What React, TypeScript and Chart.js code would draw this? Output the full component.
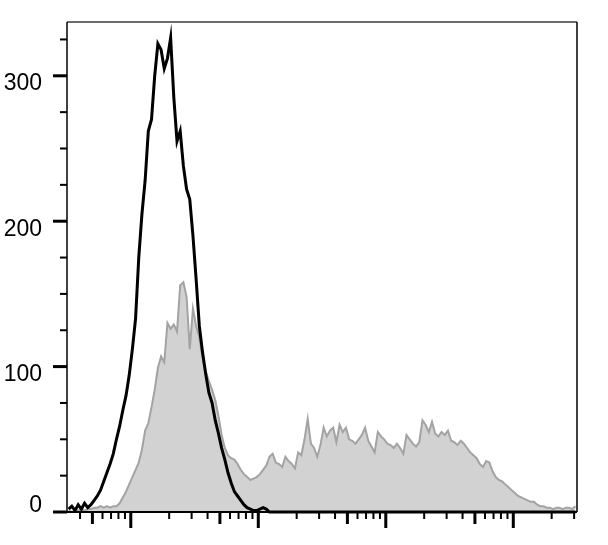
import React, { useEffect, useRef } from 'react';
import { Chart, registerables } from 'chart.js';

Chart.register(...registerables);

// ---- histogram binning (log-spaced channels) ----
const BIN_LOG_START = 1.5;
const BIN_LOG_STEP = 0.025;

// ---- axis ranges ----
const X_MIN = 31.6;
const X_MAX = 316000;
const Y_MIN = 0;
const Y_MAX = 337;

// ---- tick values / labels ----
const Y_MAJOR = [0, 100, 200, 300];
const Y_MINOR = [25, 50, 75, 125, 150, 175, 225, 250, 275, 325];
const Y_ZERO_LABEL_AT = 10; // "0" label sits slightly above the baseline
const X_MAJOR = [100, 1000, 10000, 100000];
const X_MAJOR_LABELS = ['10²', '10³', '10⁴', '10⁵'];
const X_MID = [50, 500, 5000, 50000];
const X_MINOR = [
  40, 60, 70, 80, 90,
  200, 300, 400, 600, 700, 800, 900,
  2000, 3000, 4000, 6000, 7000, 8000, 9000,
  20000, 30000, 40000, 60000, 70000, 80000, 90000,
  200000, 300000,
];

// ---- series: counts per bin ----
const GRAY_COUNTS = [
  1, 0, 1, 1, 2, 1, 2, 2, 3, 3,
  4, 3, 4, 3, 4, 4, 6, 10, 14, 19,
  24, 29, 34, 43, 56, 61, 72, 84, 99, 107,
  103, 130, 126, 129, 124, 156, 158, 148, 112, 140,
  128, 120, 106, 97, 90, 84, 77, 66, 53, 44,
  39, 37, 36, 33, 29, 26, 24, 22, 23, 24,
  26, 29, 32, 38, 40, 34, 33, 31, 38, 35,
  33, 30, 41, 39, 50, 64, 47, 44, 38, 46,
  58, 52, 56, 58, 48, 60, 55, 58, 50, 49,
  47, 50, 53, 58, 49, 45, 41, 55, 52, 50,
  47, 46, 44, 47, 44, 40, 53, 50, 47, 45,
  48, 63, 60, 55, 62, 54, 52, 55, 53, 56,
  49, 48, 46, 49, 47, 44, 41, 39, 37, 33,
  31, 35, 34, 28, 24, 22, 21, 19, 17, 15,
  13, 11, 10, 9, 8, 7, 7, 5, 4, 4,
  3, 3, 2, 3, 3, 2, 3, 3, 2, 4,
];

const BLACK_COUNTS = [
  2, 4, 1, 5, 2, 6, 3, 5, 8, 11,
  15, 21, 27, 33, 40, 50, 59, 70, 80, 94,
  112, 133, 175, 205, 228, 262, 270, 300, 322, 318,
  305, 312, 326, 285, 255, 262, 238, 222, 215, 190,
  160, 128, 110, 95, 82, 75, 63, 54, 44, 36,
  27, 20, 14, 11, 8, 5, 3, 2, 1, 1,
  2, 3, 2, 0, 0, 0, 0, 0, 0, 0,
  0, 0, 0, 0, 0, 0, 0, 0, 0, 0,
  0, 0, 0, 0, 0, 0, 0, 0, 0, 0,
  0, 0, 0, 0, 0, 0, 0, 0, 0, 0,
  0, 0, 0, 0, 0, 0, 0, 0, 0, 0,
  0, 0, 0, 0, 0, 0, 0, 0, 0, 0,
  0, 0, 0, 0, 0, 0, 0, 0, 0, 0,
  0, 0, 0, 0, 0, 0, 0, 0, 0, 0,
  0, 0, 0, 0, 0, 0, 0, 0, 0, 0,
  0, 0, 0, 0, 0, 0, 0, 0, 0, 0,
];

const CANVAS_W = 608;
const CANVAS_H = 580;
const FONT = '"Liberation Sans", Arial, Helvetica, sans-serif';

const toPoints = (counts: number[]) =>
  counts.map((c, i) => ({ x: Math.pow(10, BIN_LOG_START + (i + 0.5) * BIN_LOG_STEP), y: c }));

const axisDecor = {
  id: 'axisDecor',
  afterDraw(chart: any) {
    const { ctx, chartArea } = chart;
    const { left, right, top, bottom } = chartArea;
    const xs = chart.scales.x;
    const ys = chart.scales.y;
    ctx.save();
    // frame
    ctx.lineWidth = 1.5;
    ctx.strokeStyle = '#3a3a3a';
    ctx.beginPath();
    ctx.moveTo(left, top);
    ctx.lineTo(right, top);
    ctx.stroke();
    ctx.strokeStyle = '#000';
    ctx.beginPath();
    ctx.moveTo(right, top);
    ctx.lineTo(right, bottom);
    ctx.stroke();
    ctx.beginPath();
    ctx.moveTo(left, top);
    ctx.lineTo(left, bottom);
    ctx.stroke();
    ctx.lineWidth = 2;
    ctx.beginPath();
    ctx.moveTo(left, bottom);
    ctx.lineTo(right, bottom);
    ctx.stroke();
    // y ticks
    ctx.fillStyle = '#000';
    Y_MAJOR.forEach((v) => {
      const y = ys.getPixelForValue(v);
      ctx.fillRect(left - 14, y - 1.5, 14, 3);
    });
    Y_MINOR.forEach((v) => {
      const y = ys.getPixelForValue(v);
      ctx.fillRect(left - 7, y - 1, 7, 2);
    });
    // x ticks
    X_MAJOR.forEach((v) => {
      const x = xs.getPixelForValue(v);
      ctx.fillRect(x - 1.5, bottom + 1, 3, 15);
    });
    X_MID.forEach((v) => {
      const x = xs.getPixelForValue(v);
      ctx.fillRect(x - 1.5, bottom + 1, 3, 11);
    });
    X_MINOR.forEach((v) => {
      const x = xs.getPixelForValue(v);
      ctx.fillRect(x - 1, bottom + 1, 2, 6);
    });
    ctx.restore();
  },
};

export default function App() {
  const ref = useRef<HTMLCanvasElement | null>(null);

  useEffect(() => {
    if (!ref.current) return;
    const chart = new Chart(ref.current, {
      type: 'line',
      data: {
        datasets: [
          {
            label: 'black',
            data: toPoints(BLACK_COUNTS),
            borderColor: '#000000',
            borderWidth: 3,
            pointRadius: 0,
            fill: false,
            tension: 0,
            clip: false,
          },
          {
            label: 'gray',
            data: toPoints(GRAY_COUNTS),
            borderColor: '#a3a3a3',
            backgroundColor: '#d2d2d2',
            borderWidth: 2,
            pointRadius: 0,
            fill: 'origin',
            tension: 0,
          },
        ],
      } as any,
      options: {
        responsive: false,
        animation: false,
        devicePixelRatio: 1,
        layout: { padding: { top: 22, right: 31, left: 0, bottom: 0 } },
        plugins: {
          legend: { display: false },
          tooltip: { enabled: false },
        },
        scales: {
          x: {
            type: 'logarithmic',
            min: X_MIN,
            max: X_MAX,
            afterBuildTicks: (s: any) => {
              s.ticks = X_MAJOR.map((v) => ({ value: v }));
            },
            afterFit: (s: any) => {
              s.height = CANVAS_H - 512;
            },
            ticks: {
              callback: (_v: any, i: number) => X_MAJOR_LABELS[i],
              font: { family: FONT, size: 22 },
              color: '#000',
              padding: 0,
              labelOffset: 8,
              maxRotation: 0,
              autoSkip: false,
            },
            grid: { display: false, drawTicks: true, tickLength: 30 },
            border: { display: false },
          },
          y: {
            type: 'linear',
            min: Y_MIN,
            max: Y_MAX,
            afterBuildTicks: (s: any) => {
              s.ticks = Y_MAJOR.map((v) => ({ value: v === 0 ? Y_ZERO_LABEL_AT : v }));
            },
            afterFit: (s: any) => {
              s.width = 67;
            },
            ticks: {
              callback: (v: any) => (v === Y_ZERO_LABEL_AT ? '0' : String(v)),
              font: { family: FONT, size: 23 },
              color: '#000',
              padding: 0,
              labelOffset: 8,
              autoSkip: false,
            },
            grid: { display: false, drawTicks: true, tickLength: 25 },
            border: { display: false },
          },
        },
      } as any,
      plugins: [axisDecor],
    });
    return () => chart.destroy();
  }, []);

  return (
    <div
      style={{
        position: 'fixed',
        left: 0,
        top: 0,
        width: CANVAS_W,
        height: 545,
        overflow: 'hidden',
        background: '#fff',
      }}
    >
      <canvas ref={ref} width={CANVAS_W} height={CANVAS_H} style={{ display: 'block' }} />
    </div>
  );
}
